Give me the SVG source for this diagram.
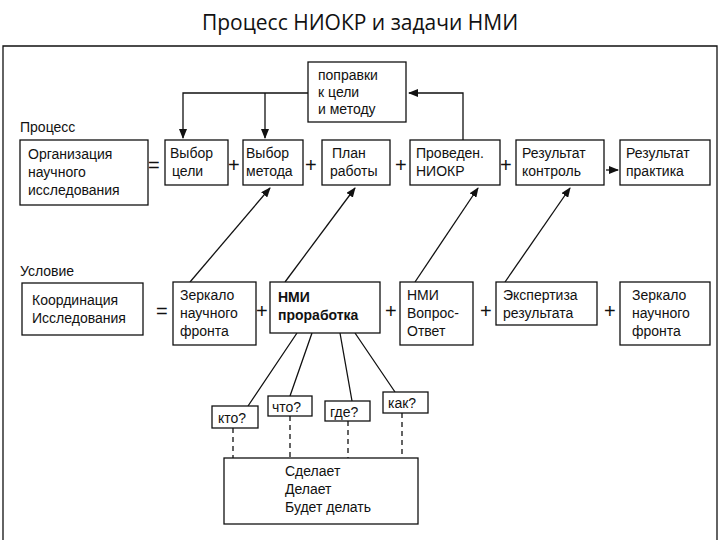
<svg xmlns="http://www.w3.org/2000/svg" width="720" height="540" viewBox="0 0 720 540">
<style>
text{font-family:"Liberation Sans",Arial,sans-serif;font-size:14px;fill:#111}
.b{fill:#fff;stroke:#111;stroke-width:1.3}
.l{fill:none;stroke:#111;stroke-width:1.3}
.d{stroke-dasharray:5,4}
.op{font-size:20px}
</style>
<defs><marker id="a" markerWidth="10" markerHeight="8" refX="9" refY="4" orient="auto" markerUnits="userSpaceOnUse"><path d="M0,0L10,4L0,8z" fill="#111"/></marker></defs>
<rect x="0" y="0" width="720" height="540" fill="#fff"/>
<text x="360" y="30" text-anchor="middle" style="font-family:'Open Sans',sans-serif;font-size:21px">Процесс НИОКР и задачи НМИ</text>
<path d="M3,540V46H717V540" class="l" stroke-width="2"/>
<g id="connectors">
<path class="l" d="M463,140V93H409" marker-end="url(#a)"/>
<path class="l" d="M308,93H183V138" marker-end="url(#a)"/>
<path class="l" d="M265,93V138" marker-end="url(#a)"/>
<path class="l" d="M190,282L270,188" marker-end="url(#a)"/>
<path class="l" d="M285,282L355,188" marker-end="url(#a)"/>
<path class="l" d="M415,282L478,188" marker-end="url(#a)"/>
<path class="l" d="M505,282L570,188" marker-end="url(#a)"/>
<path class="l" d="M606,170H618" marker-end="url(#a)"/>
<path class="l" d="M297,333L248,406M312,333L290,396M340,333L352,401M355,333L395,392"/>
<path class="l d" d="M233,428V458M290,416V458M348,421V458M402,413V458"/>
</g>
<g id="popravki"><rect class="b" x="308" y="62" width="98" height="60"/><text x="318" y="80">поправки</text><text x="318" y="97">к цели</text><text x="318" y="114">и методу</text></g>
<text x="20" y="132">Процесс</text>
<g id="org"><rect class="b" x="20" y="140" width="128" height="65"/><text x="28" y="159">Организация</text><text x="28" y="177">научного</text><text x="28" y="195">исследования</text></g>
<text x="148" y="172" class="op">=</text>
<g id="vc"><rect class="b" x="165" y="140" width="63" height="45"/><text x="170" y="158">Выбор</text><text x="172" y="176">цели</text></g>
<text x="228" y="172" class="op">+</text>
<g id="vm"><rect class="b" x="243" y="140" width="60" height="45"/><text x="246" y="158">Выбор</text><text x="246" y="176">метода</text></g>
<text x="305" y="172" class="op">+</text>
<g id="pr"><rect class="b" x="322" y="140" width="68" height="45"/><text x="332" y="158">План</text><text x="330" y="176">работы</text></g>
<text x="395" y="172" class="op">+</text>
<g id="niokr"><rect class="b" x="410" y="140" width="90" height="45"/><text x="416" y="158">Проведен.</text><text x="416" y="176">НИОКР</text></g>
<text x="500" y="172" class="op">+</text>
<g id="rk"><rect class="b" x="516" y="140" width="88" height="45"/><text x="522" y="158">Результат</text><text x="522" y="176">контроль</text></g>
<g id="rp"><rect class="b" x="620" y="140" width="90" height="45"/><text x="626" y="158">Результат</text><text x="626" y="176">практика</text></g>
<text x="20" y="276">Условие</text>
<g id="koord"><rect class="b" x="22" y="283" width="121" height="52"/><text x="32" y="305">Координация</text><text x="32" y="323">Исследования</text></g>
<text x="156" y="318" class="op">=</text>
<g id="z1"><rect class="b" x="173" y="282" width="83" height="63"/><text x="180" y="300">Зеркало</text><text x="180" y="318">научного</text><text x="180" y="336">фронта</text></g>
<text x="256" y="318" class="op">+</text>
<g id="nmi"><rect class="b" x="270" y="282" width="110" height="51" stroke-width="2"/><text x="278" y="302" font-weight="bold">НМИ</text><text x="278" y="320" font-weight="bold">проработка</text></g>
<text x="385" y="318" class="op">+</text>
<g id="vo"><rect class="b" x="400" y="282" width="73" height="63"/><text x="407" y="300">НМИ</text><text x="407" y="318">Вопрос-</text><text x="407" y="336">Ответ</text></g>
<text x="480" y="318" class="op">+</text>
<g id="ek"><rect class="b" x="496" y="282" width="101" height="43"/><text x="503" y="300">Экспертиза</text><text x="503" y="318">результата</text></g>
<text x="604" y="318" class="op">+</text>
<g id="z2"><rect class="b" x="620" y="282" width="90" height="63"/><text x="632" y="300">Зеркало</text><text x="632" y="318">научного</text><text x="632" y="336">фронта</text></g>
<g id="kto"><rect class="b" x="212" y="406" width="46" height="22"/><text x="218" y="423">кто?</text></g>
<g id="chto"><rect class="b" x="268" y="396" width="44" height="20"/><text x="272" y="412">что?</text></g>
<g id="gde"><rect class="b" x="325" y="401" width="45" height="20"/><text x="330" y="417">где?</text></g>
<g id="kak"><rect class="b" x="383" y="392" width="45" height="21"/><text x="388" y="408">как?</text></g>
<g id="res"><rect class="b" x="224" y="458" width="194" height="66"/><text x="285" y="476">Сделает</text><text x="285" y="494">Делает</text><text x="285" y="512">Будет делать</text></g>
</svg>
